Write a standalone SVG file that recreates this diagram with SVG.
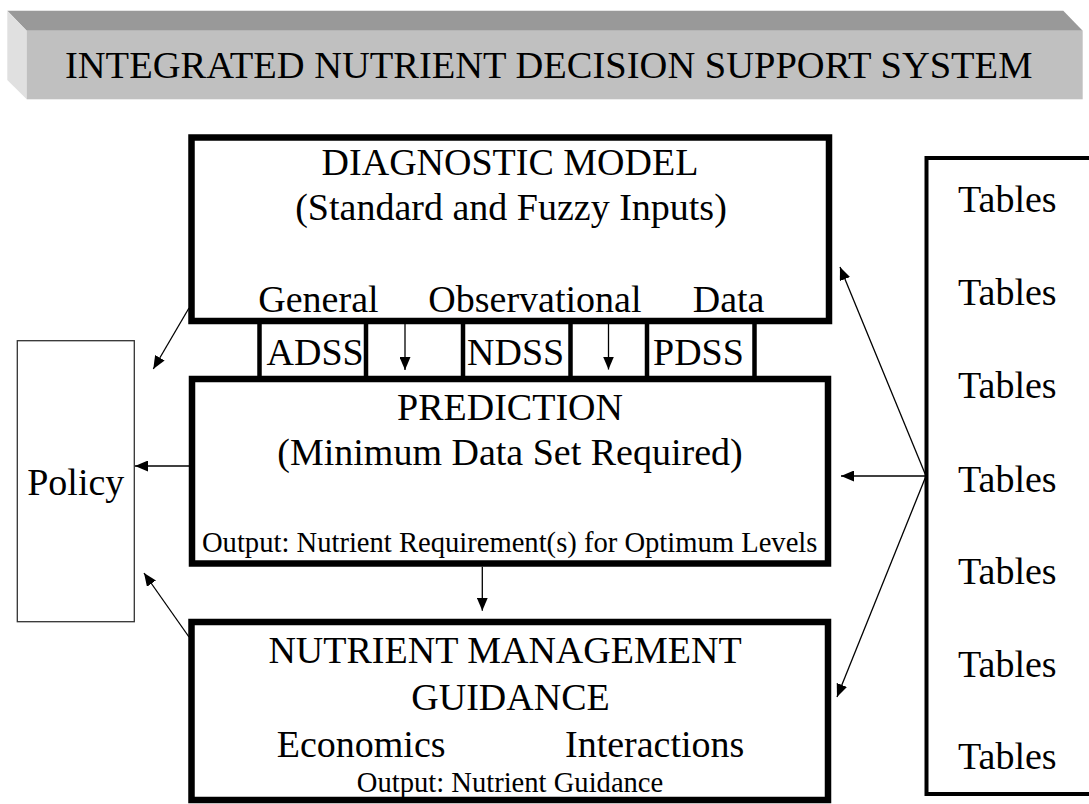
<svg xmlns="http://www.w3.org/2000/svg" width="1089" height="804" viewBox="0 0 1089 804">
<defs>
<marker id="ah" markerUnits="userSpaceOnUse" markerWidth="13" markerHeight="11" refX="13" refY="5.5" orient="auto">
<path d="M0,0 L13,5.5 L0,11 z" fill="#000"/>
</marker>
<style>
text{font-family:"Liberation Serif","Times New Roman",serif;fill:#000;}
.big{font-size:38px;}
.small{font-size:28.6px;}
.thick{fill:#fff;stroke:#000;stroke-width:6.5;}
.div{stroke:#000;stroke-width:4.5;}
.conn{stroke:#000;stroke-width:1.3;fill:none;marker-end:url(#ah);}
</style>
</defs>
<rect width="1089" height="804" fill="#fff"/>
<g id="banner">
<polygon points="7.3,10.7 1063.3,10.7 1082.7,30.7 26.7,30.7" fill="#999999"/>
<polygon points="7.3,10.7 26.7,30.7 26.7,99.3 7.3,80" fill="#e0e0e0"/>
<rect x="26.7" y="30.7" width="1056" height="68.6" fill="#c0c0c0"/>
<text x="65" y="78.3" style="font-size:38.5px">INTEGRATED NUTRIENT DECISION SUPPORT SYSTEM</text>
</g>
<g id="diagnostic">
<rect class="thick" x="191.5" y="137.5" width="637.5" height="183.5"/>
<text class="big" x="510" y="175" text-anchor="middle">DIAGNOSTIC MODEL</text>
<text class="big" x="511" y="220" text-anchor="middle">(Standard and Fuzzy Inputs)</text>
<text class="big" x="258.3" y="311.5">General</text>
<text class="big" x="428.3" y="311.5">Observational</text>
<text class="big" x="692.7" y="311.5">Data</text>
</g>
<g id="subsystems">
<line class="div" x1="259.5" y1="321" x2="259.5" y2="379"/>
<line class="div" x1="366" y1="321" x2="366" y2="379"/>
<line class="div" x1="463" y1="321" x2="463" y2="379"/>
<line class="div" x1="570.5" y1="321" x2="570.5" y2="379"/>
<line class="div" x1="647" y1="321" x2="647" y2="379"/>
<line class="div" x1="754.5" y1="321" x2="754.5" y2="379"/>
<text class="big" x="266.5" y="365">ADSS</text>
<text class="big" x="467" y="365">NDSS</text>
<text class="big" x="653" y="365">PDSS</text>
</g>
<g id="prediction">
<rect class="thick" x="192" y="379" width="636" height="184.5"/>
<text class="big" x="510" y="420" text-anchor="middle">PREDICTION</text>
<text class="big" x="510" y="465" text-anchor="middle">(Minimum Data Set Required)</text>
<text class="small" x="509.7" y="551.7" text-anchor="middle">Output: Nutrient Requirement(s) for Optimum Levels</text>
</g>
<g id="management">
<rect class="thick" x="191.5" y="622" width="636.5" height="178"/>
<text class="big" x="505" y="663.3" text-anchor="middle">NUTRIENT MANAGEMENT</text>
<text class="big" x="510.5" y="710" text-anchor="middle">GUIDANCE</text>
<text class="big" x="276.7" y="756.7">Economics</text>
<text class="big" x="565" y="756.7">Interactions</text>
<text class="small" x="510" y="791.7" text-anchor="middle">Output: Nutrient Guidance</text>
</g>
<g id="policy">
<rect x="17.3" y="340.7" width="117" height="281" fill="#fff" stroke="#333" stroke-width="1.3"/>
<text class="big" x="75.8" y="495" text-anchor="middle">Policy</text>
</g>
<g id="tables">
<rect x="926.5" y="158" width="200" height="636" fill="#fff" stroke="#000" stroke-width="4"/>
<text class="big" x="958" y="212">Tables</text>
<text class="big" x="958" y="305">Tables</text>
<text class="big" x="958" y="398">Tables</text>
<text class="big" x="958" y="491.5">Tables</text>
<text class="big" x="958" y="583.5">Tables</text>
<text class="big" x="958" y="676.5">Tables</text>
<text class="big" x="958" y="768.5">Tables</text>
</g>
<g id="connectors">
<line class="conn" x1="405" y1="324" x2="405" y2="370"/>
<line class="conn" x1="608.5" y1="324" x2="608.5" y2="369.5"/>
<line class="conn" x1="189" y1="466" x2="135" y2="466"/>
<line class="conn" x1="189" y1="308" x2="153.3" y2="369"/>
<line class="conn" x1="189" y1="637" x2="144" y2="573"/>
<line class="conn" x1="482.3" y1="566.7" x2="482.3" y2="610.7"/>
<line class="conn" x1="926" y1="476" x2="841" y2="476"/>
<line class="conn" x1="926" y1="476" x2="840" y2="267"/>
<line class="conn" x1="926" y1="476" x2="837" y2="697"/>
</g>
</svg>
